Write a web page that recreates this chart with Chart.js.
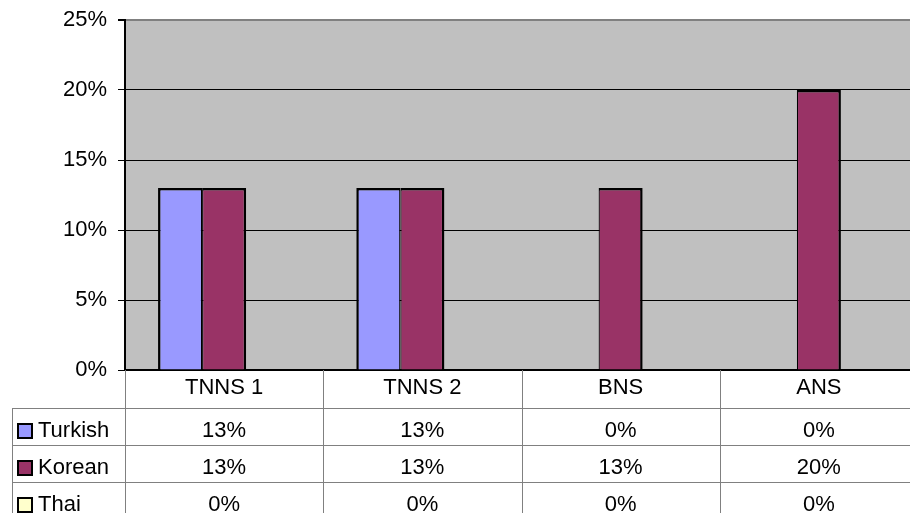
<!DOCTYPE html>
<html>
<head>
<meta charset="utf-8">
<script src="https://cdn.jsdelivr.net/npm/chart.js@4"></script>
<style>
  html, body { margin: 0; padding: 0; background: #fff; overflow: hidden; }
  canvas { display: block; }
</style>
</head>
<body>
<canvas id="myChart" width="920" height="513"></canvas>
<script>
// datos del grafico
const categorias = ["TNNS 1", "TNNS 2", "BNS", "ANS"];
const turkish = [0.13, 0.13, 0, 0];
const korean = [0.13, 0.13, 0.13, 0.2];
const thai = [0, 0, 0, 0];
const nombresSeries = ["Turkish", "Korean", "Thai"];
const coloresSeries = ["#9999FF", "#993366", "#FFFFCC"];
const ticksY = [0, 0.05, 0.1, 0.15, 0.2, 0.25];

const FUENTE = "'Liberation Sans', Arial, sans-serif";
const porcentaje = (v) => Math.round(v * 100) + "%";

// fondo gris del area de trazado
const fondoPlot = {
  id: "fondoPlot",
  beforeDraw(chart) {
    const { ctx, chartArea } = chart;
    ctx.save();
    ctx.fillStyle = "#C0C0C0";
    ctx.fillRect(chartArea.left, chartArea.top, chartArea.right - chartArea.left, chartArea.bottom - chartArea.top);
    ctx.restore();
  },
};

// tabla de datos debajo del eje x, con la leyenda en la primera columna
const tablaDatos = {
  id: "tablaDatos",
  afterDraw(chart) {
    const { ctx, chartArea } = chart;
    const xScale = chart.scales.x;
    const ancho = (chartArea.right - chartArea.left) / categorias.length;
    const filas = [408, 445, 482, 520];
    const izq = 12;
    ctx.save();
    ctx.strokeStyle = "#808080";
    ctx.lineWidth = 1;
    ctx.beginPath();
    // lineas verticales
    for (let i = 0; i <= categorias.length; i++) {
      const x = Math.round(chartArea.left + i * ancho) + 0.5;
      ctx.moveTo(x, chartArea.bottom);
      ctx.lineTo(x, 513);
    }
    ctx.moveTo(izq + 0.5, filas[0]);
    ctx.lineTo(izq + 0.5, 513);
    // lineas horizontales
    for (let j = 0; j < 3; j++) {
      ctx.moveTo(izq, filas[j] + 0.5);
      ctx.lineTo(chart.width, filas[j] + 0.5);
    }
    ctx.stroke();

    ctx.font = "22px " + FUENTE;
    ctx.textBaseline = "alphabetic";
    chart.data.datasets.forEach((ds, j) => {
      const base = filas[j] + 29;
      // cuadro de la leyenda
      ctx.fillStyle = ds.backgroundColor;
      ctx.fillRect(18, filas[j] + 16, 14, 14);
      ctx.strokeStyle = "#000";
      ctx.lineWidth = 2;
      ctx.strokeRect(18, filas[j] + 16, 14, 14);
      ctx.fillStyle = "#000";
      ctx.textAlign = "left";
      ctx.fillText(ds.label, 38, base);
      // valores por categoria
      ctx.textAlign = "center";
      ds.data.forEach((v, i) => {
        ctx.fillText(porcentaje(v), xScale.getPixelForValue(i), base);
      });
    });
    ctx.restore();
  },
};

const data = {
  labels: categorias,
  datasets: [
    {
      label: nombresSeries[0],
      data: turkish,
      backgroundColor: coloresSeries[0],
      borderColor: "#000",
      borderWidth: { top: 2.5, left: 2.5, right: 1.2, bottom: 0 },
      inflateAmount: 0,
    },
    {
      label: nombresSeries[1],
      data: korean,
      backgroundColor: coloresSeries[1],
      borderColor: "#000",
      borderWidth: { top: 2.5, left: 1.2, right: 2.5, bottom: 0 },
      inflateAmount: 0,
    },
    {
      label: nombresSeries[2],
      data: thai,
      backgroundColor: coloresSeries[2],
      borderColor: "#000",
      borderWidth: 0,
    },
  ],
};

const config = {
  type: "bar",
  data: data,
  options: {
    responsive: false,
    animation: false,
    devicePixelRatio: 1,
    layout: { padding: { left: 0, top: 20, right: 2, bottom: 0 } },
    datasets: {
      bar: { barPercentage: 1, categoryPercentage: 3 / 4.5 },
    },
    plugins: {
      legend: { display: false },
      tooltip: { enabled: false },
    },
    scales: {
      x: {
        grid: { display: false, drawTicks: false },
        border: { color: "#000", width: 2 },
        ticks: {
          color: "#000",
          padding: 5,
          maxRotation: 0,
          font: { family: FUENTE, size: 22 },
        },
        afterFit(scale) {
          scale.height = 143;
        },
      },
      y: {
        min: 0,
        max: 0.25,
        afterBuildTicks(scale) {
          scale.ticks = ticksY.map((v) => ({ value: v }));
        },
        grid: {
          color: (c) => (c.tick && c.tick.value === 0.25 ? "#808080" : "#000"),
          lineWidth: (c) => (c.tick && c.tick.value === 0.25 ? 2 : 1),
          tickColor: "#000",
          tickLength: 7,
        },
        border: { color: "#000", width: 2 },
        ticks: {
          color: "#000",
          padding: 11,
          font: { family: FUENTE, size: 22 },
          callback: (v) => porcentaje(v),
        },
        afterFit(scale) {
          // ancho fijo del eje y sin relleno extra arriba/abajo
          scale.width = 125;
          scale.paddingTop = 0;
          scale.paddingBottom = 0;
        },
      },
    },
  },
  plugins: [fondoPlot, tablaDatos],
};

const myChartElement = document.getElementById("myChart");
var myChart = new Chart(myChartElement, config);
</script>
</body>
</html>
